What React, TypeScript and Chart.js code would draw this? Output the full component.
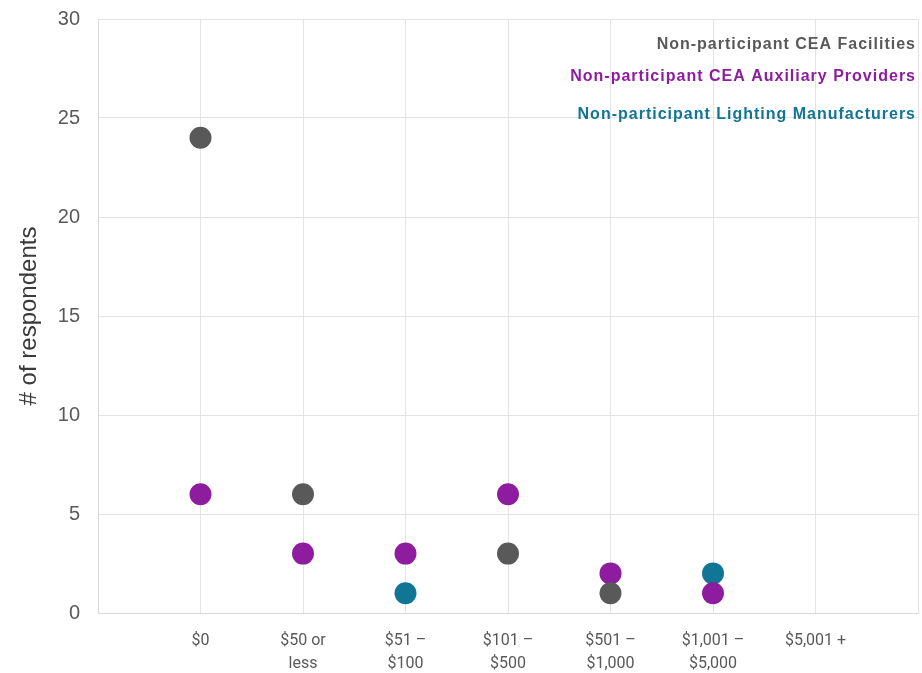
import React, { useEffect, useRef } from "react";
import { Chart, registerables } from "chart.js";

Chart.register(...registerables);

const categories: (string | string[])[] = [
  "",
  "$0",
  ["$50 or", "less"],
  ["$51 –", "$100"],
  ["$101 –", "$500"],
  ["$501 –", "$1,000"],
  ["$1,001 –", "$5,000"],
  "$5,001 +",
  "",
];

const seriesNames = [
  "Non-participant CEA Facilities",
  "Non-participant CEA Auxiliary Providers",
  "Non-participant Lighting Manufacturers",
];
const seriesColors = ["#595959", "#8e1c9e", "#117596"];

// values aligned with categories (null = no point)
const facilities: (number | null)[] = [null, 24, 6, null, 3, 1, null, null, null];
const auxiliary: (number | null)[] = [null, 6, 3, 3, 6, 2, 1, null, null];
const lighting: (number | null)[] = [null, null, null, 1, null, null, 2, null, null];

const yTicks = [0, 5, 10, 15, 20, 25, 30];

const legendPlugin = {
  id: "textLegend",
  afterDraw(chart: any) {
    const { ctx, chartArea } = chart;
    const ys = [26, 58, 96];
    ctx.save();
    ctx.font = "bold 16px 'Liberation Sans', Arial, sans-serif";
    (ctx as any).letterSpacing = "1px";
    ctx.textAlign = "right";
    ctx.textBaseline = "middle";
    seriesNames.forEach((n, i) => {
      ctx.fillStyle = seriesColors[i];
      ctx.fillText(n, chartArea.right - 2, chartArea.top + ys[i]);
    });
    ctx.restore();
  },
};

export default function App() {
  const ref = useRef<HTMLCanvasElement | null>(null);
  useEffect(() => {
    if (!ref.current) return;
    const data = [facilities, auxiliary, lighting];
    const chart = new Chart(ref.current, {
      type: "line",
      data: {
        labels: categories as any,
        datasets: data.map((d, i) => ({
          label: seriesNames[i],
          data: d,
          showLine: false,
          clip: false as any,
          pointRadius: 11,
          pointHoverRadius: 11,
          pointBackgroundColor: seriesColors[i],
          pointBorderColor: seriesColors[i],
          pointBorderWidth: 0,
          backgroundColor: seriesColors[i],
          borderColor: seriesColors[i],
        })),
      },
      options: {
        animation: false,
        responsive: false,
        layout: { autoPadding: false, padding: { top: 19, right: 4, left: 0, bottom: 0 } },
        plugins: { legend: { display: false }, tooltip: { enabled: false } },
        scales: {
          x: {
            offset: false,
            grid: {
              color: "#e3e3e3",
              drawTicks: true,
              tickLength: 16,
              tickColor: "rgba(0,0,0,0)",
              lineWidth: 1,
            },
            border: { color: "#d9d9d9" },
            ticks: {
              color: "#595959",
              font: { family: "Roboto, 'Liberation Sans', Arial", size: 16, lineHeight: 1.44 },
              padding: 0,
              autoSkip: false,
              maxRotation: 0,
              minRotation: 0,
            },
            afterFit(scale: any) {
              scale.height = 60;
              scale.paddingLeft = 0;
              scale.paddingRight = 0;
            },
          },
          y: {
            min: 0,
            max: 30,
            afterBuildTicks(scale: any) {
              scale.ticks = yTicks.map((v) => ({ value: v }));
            },
            grid: { color: "#e3e3e3", drawTicks: false },
            border: { color: "#d9d9d9" },
            ticks: {
              color: "#595959",
              font: { family: "'Liberation Sans', Arial", size: 20 },
              padding: 18,
            },
            title: {
              display: true,
              text: "# of respondents",
              color: "#3a3a3a",
              font: { family: "'Liberation Sans', Arial", size: 24 },
              padding: { top: 15, bottom: 0 },
            },
            afterFit(scale: any) {
              scale.width = 98;
              scale.paddingTop = 0;
              scale.paddingBottom = 0;
            },
          },
        },
      },
      plugins: [legendPlugin],
    });
    return () => chart.destroy();
  }, []);
  return (
    <div style={{ position: "absolute", left: 0, top: 0, width: 922, height: 673, background: "#fff" }}>
      <canvas ref={ref} width={922} height={673} style={{ width: 922, height: 673 }} />
    </div>
  );
}
